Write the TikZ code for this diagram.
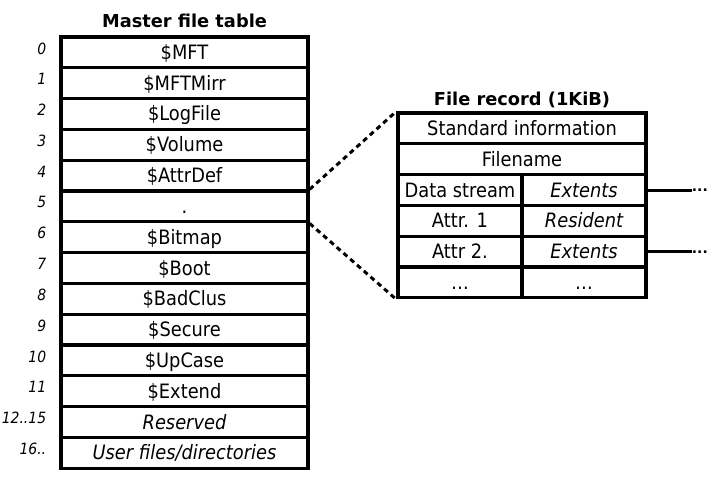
\documentclass[tikz,border=0pt]{standalone}
\usepackage{fontspec}
\setmainfont{DejaVu Sans}[FakeStretch=0.9]
\newfontfamily\titlefont{DejaVu Sans}
\usetikzlibrary{positioning}

\begin{document}
\begin{tikzpicture}[x=1pt,y=-1pt,
	cell/.style={draw,line width=3.3pt,minimum height=30.8pt,inner sep=0pt,
		text height=14pt,text depth=0pt,font=\fontsize{19.8}{22}\selectfont},
	idx/.style={font=\fontsize{15.5}{18}\selectfont\itshape,inner sep=0pt},
	heading/.style={font=\titlefont\bfseries\fontsize{17.8}{20}\selectfont},
	zoomline/.style={line width=3pt,dash pattern=on 5pt off 4pt},
	trail/.style={line width=3pt},
	more/.style={font=\titlefont\bfseries\fontsize{14}{16}\selectfont,inner sep=0pt,
		text height=3pt,text depth=0pt}]
	\useasboundingbox (0,0) rectangle (717,484);
	% master file table
	\node[heading,anchor=base] (mfttitle) at (184.5,28) {Master file table};
	\foreach \name/\num [count=\i from 0] in {\$MFT/0,\$MFTMirr/1,\$LogFile/2,
		\$Volume/3,\$AttrDef/4,./5,\$Bitmap/6,\$Boot/7,\$BadClus/8,\$Secure/9,
		\$UpCase/10,\$Extend/11,{\itshape Reserved}/{12..15},
		{\itshape User files/directories}/{16..}}
	{
		\node[cell,minimum width=247pt] (m\i) at (184.5,{37+30.8*(\i+0.5)}) {\name};
		\node[idx,left=13pt of m\i.west,yshift=4pt] (n\i) {\num};
	}
	% file record
	\node[heading,anchor=base] (rectitle) at (522,106) {File record (1KiB)};
	\node[cell,minimum width=248pt] (r0) at (522,128.4) {Standard information};
	\node[cell,minimum width=248pt] (r1) at (522,159.2) {Filename};
	\foreach \attr/\kind [count=\j from 2] in {Data stream/\itshape Extents,
		Attr. 1/\itshape Resident,Attr 2./\itshape Extents,\dots/\dots}
	{
		\node[cell,minimum width=124pt] (ra\j) at (460,{113+30.8*(\j+0.5)}) {\attr};
		\node[cell,minimum width=124pt] (rb\j) at (584,{113+30.8*(\j+0.5)}) {\kind};
	}
	% zoom lines
	\draw[zoomline] (m5.north east) -- (r0.north west);
	\draw[zoomline] (m5.south east) -- (ra5.south west);
	% extents
	\node[more,right=44pt of rb2.east] (d2) {...};
	\node[more,right=44pt of rb4.east] (d4) {...};
	\draw[trail] (rb2.east) -- (d2.west);
	\draw[trail] (rb4.east) -- (d4.west);
\end{tikzpicture}
\end{document}
